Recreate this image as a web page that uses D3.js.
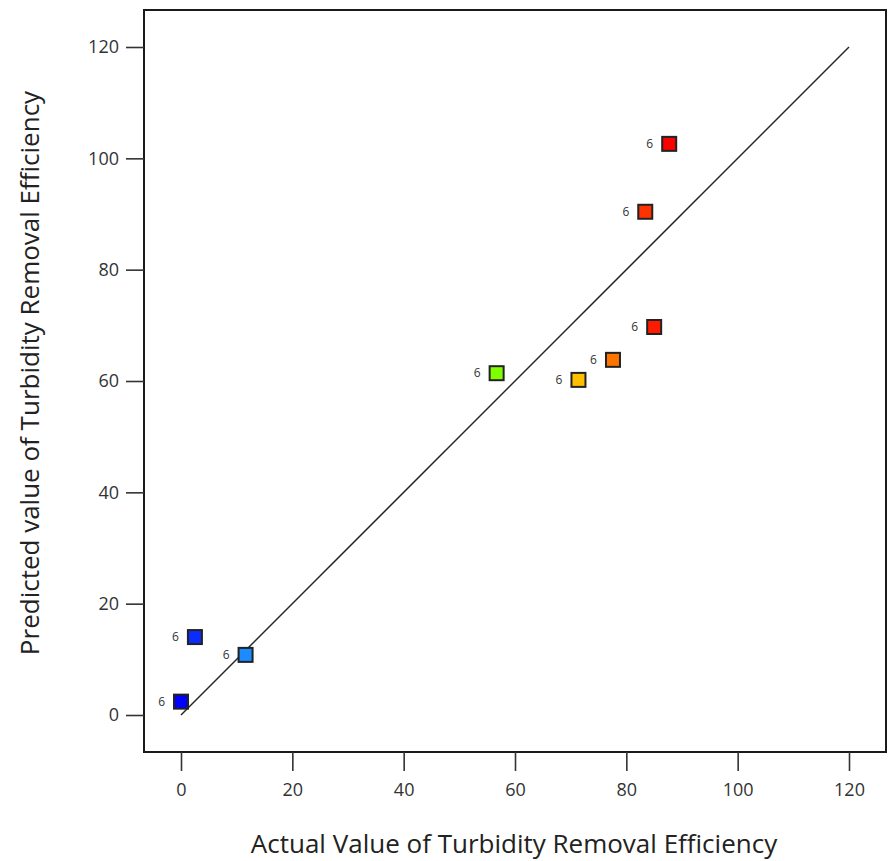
<!DOCTYPE html>
<html>
<head>
<meta charset="utf-8">
<script src="https://cdn.jsdelivr.net/npm/d3@7"></script>
<style>
  html, body { margin: 0; padding: 0; background: #fff; }
  svg { display: block; font-family: "Open Sans", "Noto Sans", sans-serif; }
</style>
</head>
<body>
<svg id="chart" width="888" height="861"></svg>
<script>
// Actual vs. predicted turbidity removal efficiency (%)
const actual    = [87.7, 83.4, 85.0, 77.6, 71.4, 56.7, 11.6, 2.5, 0.0];
const predicted = [102.6, 90.4, 69.7, 63.8, 60.2, 61.4, 10.8, 14.0, 2.4];
const runLabels = ["6", "6", "6", "6", "6", "6", "6", "6", "6"];
const pointColors = ["#ff0000", "#ff3300", "#ff1a00", "#ff7300", "#ffc000",
                     "#80ff00", "#1a8cff", "#0a2cff", "#0000ff"];
const xTicks = [0, 20, 40, 60, 80, 100, 120];
const yTicks = [0, 20, 40, 60, 80, 100, 120];
const xTitle = "Actual Value of Turbidity Removal Efficiency";
const yTitle = "Predicted value of Turbidity Removal Efficiency";

const svg = d3.select("#chart");
const box = { left: 144, top: 10, right: 886, bottom: 752 };

const x = d3.scaleLinear().domain([0, 120]).range([181, 849]);
const y = d3.scaleLinear().domain([0, 120]).range([715, 47]);

// plot frame
svg.append("rect")
  .attr("x", box.left).attr("y", box.top)
  .attr("width", box.right - box.left).attr("height", box.bottom - box.top)
  .attr("fill", "none").attr("stroke", "#1a1a1a").attr("stroke-width", 2);

// x axis
const xAxis = svg.append("g")
  .attr("transform", `translate(0,${box.bottom})`)
  .call(d3.axisBottom(x).tickValues(xTicks).tickSize(19).tickPadding(12).tickSizeOuter(0));
xAxis.select(".domain").remove();
xAxis.selectAll(".tick line").attr("stroke", "#333").attr("stroke-width", 1.6);
xAxis.selectAll(".tick text").attr("font-size", 18).attr("fill", "#333")
  .attr("font-family", "Open Sans, Noto Sans, sans-serif");

// y axis
const yAxis = svg.append("g")
  .attr("transform", `translate(${box.left},0)`)
  .call(d3.axisLeft(y).tickValues(yTicks).tickSize(18).tickPadding(7).tickSizeOuter(0));
yAxis.select(".domain").remove();
yAxis.selectAll(".tick line").attr("stroke", "#333").attr("stroke-width", 1.6);
yAxis.selectAll(".tick text").attr("font-size", 18).attr("fill", "#333")
  .attr("font-family", "Open Sans, Noto Sans, sans-serif");

// reference line y = x
svg.append("line")
  .attr("x1", x(0)).attr("y1", y(0))
  .attr("x2", x(120)).attr("y2", y(120))
  .attr("stroke", "#222").attr("stroke-width", 1.5);

// points
const data = actual.map((a, i) => ({ a, p: predicted[i], c: pointColors[i], l: runLabels[i] }));
const size = 14;
const pts = svg.append("g");
pts.selectAll("rect").data(data).join("rect")
  .attr("x", d => x(d.a) - size / 2)
  .attr("y", d => y(d.p) - size / 2)
  .attr("width", size).attr("height", size)
  .attr("fill", d => d.c)
  .attr("stroke", "#222").attr("stroke-width", 2);

pts.selectAll("text").data(data).join("text")
  .attr("x", d => x(d.a) - 16)
  .attr("y", d => y(d.p) + 4)
  .attr("text-anchor", "end")
  .attr("font-size", 12)
  .attr("fill", "#333")
  .text(d => d.l);

// axis titles
svg.append("text")
  .attr("x", 514).attr("y", 853)
  .attr("text-anchor", "middle")
  .attr("font-size", 26).attr("fill", "#222")
  .text(xTitle);

svg.append("text")
  .attr("transform", "translate(39,373) rotate(-90)")
  .attr("text-anchor", "middle")
  .attr("font-size", 26).attr("fill", "#222")
  .text(yTitle);
</script>
</body>
</html>
